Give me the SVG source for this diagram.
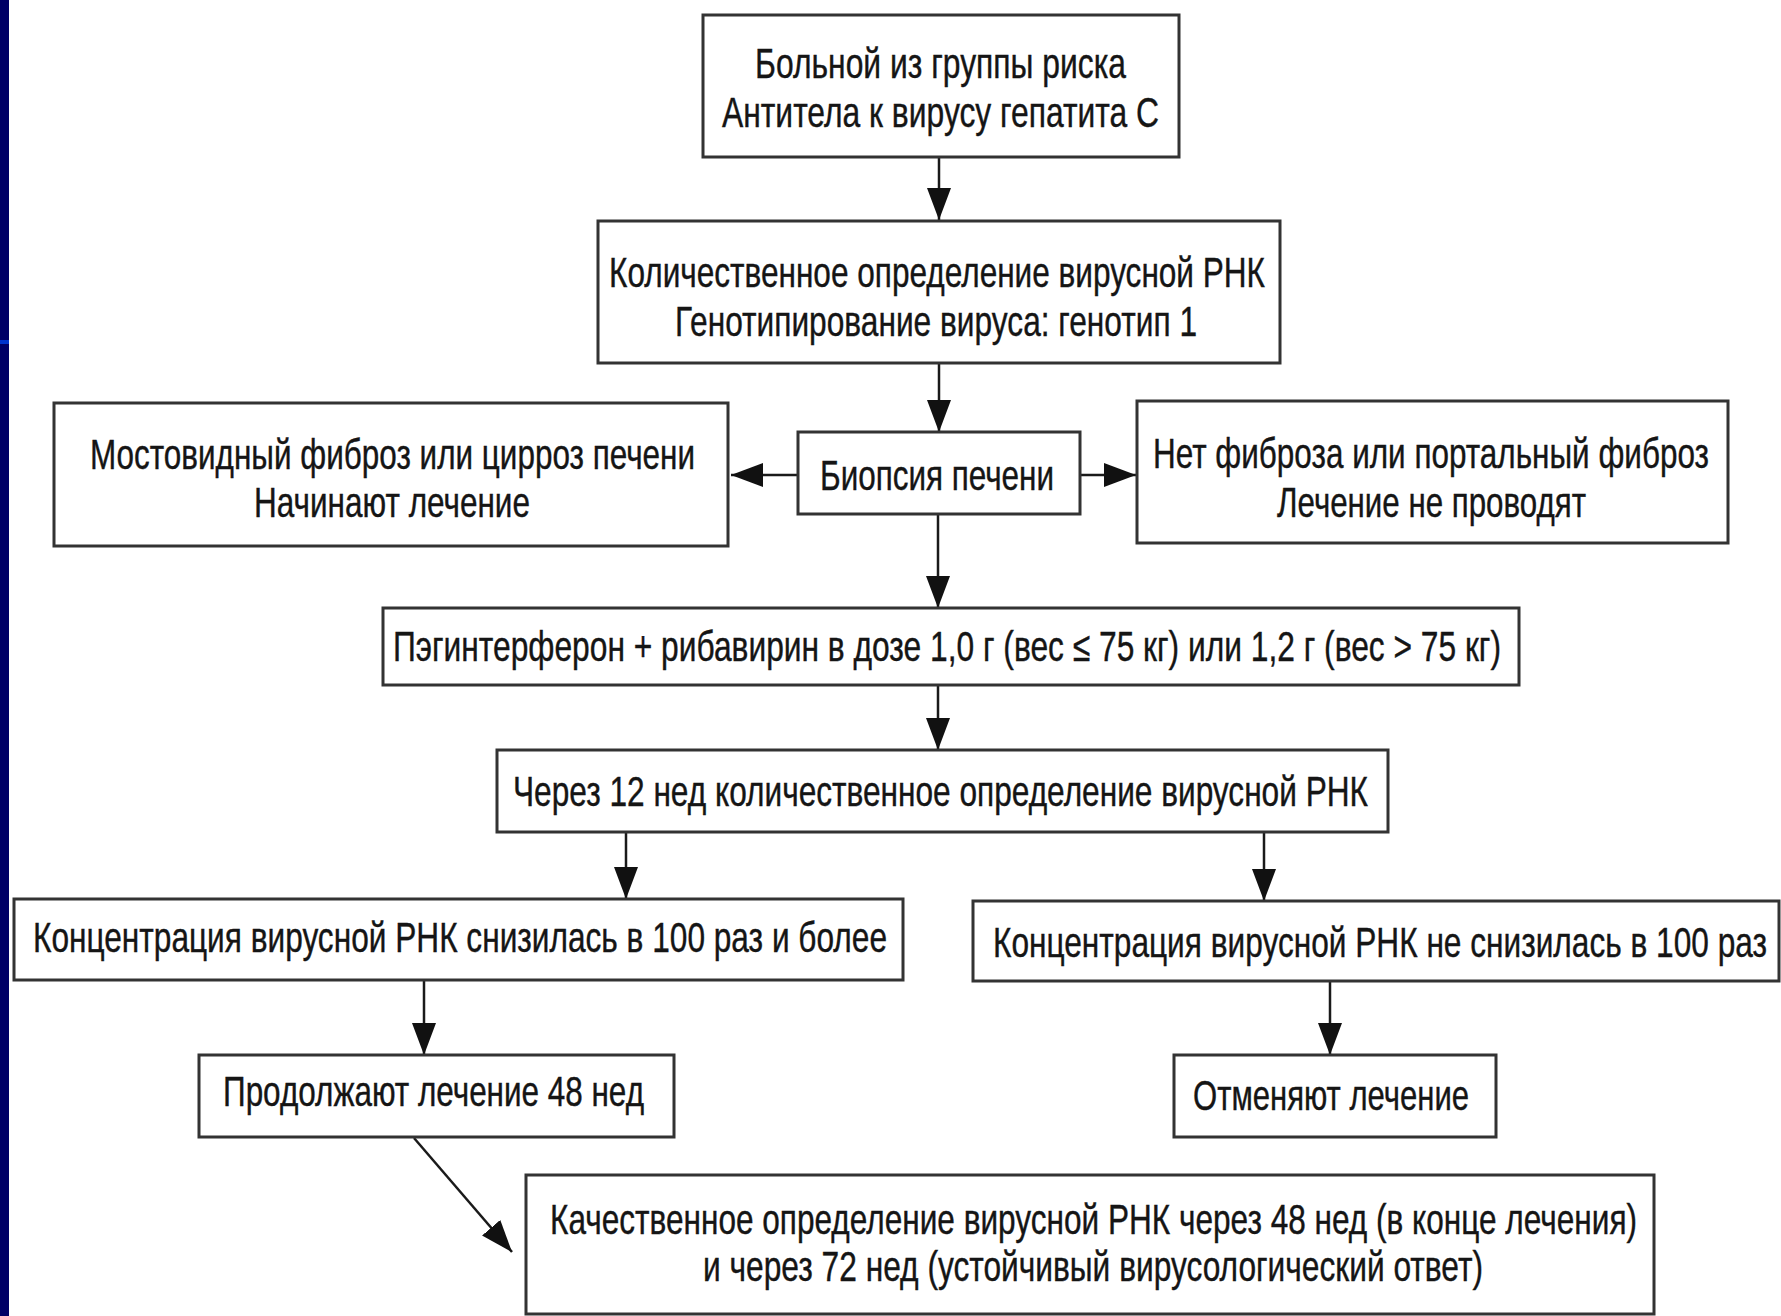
<svg xmlns="http://www.w3.org/2000/svg" width="1781" height="1316" viewBox="0 0 1781 1316">
<style>
.box{fill:#ffffff;stroke:#333333;stroke-width:3}
.t{font-family:"Liberation Sans","Arial",sans-serif;font-size:42px;fill:#151515;stroke:#151515;stroke-width:0.4;text-anchor:middle}
.c{stroke:#1a1a1a;stroke-width:2.5;fill:none}
</style>
<defs>
<marker id="ah" markerUnits="userSpaceOnUse" markerWidth="34" markerHeight="26" refX="32" refY="12" orient="auto">
<path d="M0,0 L32,12 L0,24 z" fill="#111111"/>
</marker>
</defs>
<rect x="0" y="0" width="1781" height="1316" fill="#ffffff"/>
<rect x="0" y="0" width="9" height="1316" fill="#000066"/>
<rect x="0" y="340" width="9" height="4" fill="#0033cc"/>

<g id="connectors">
<line class="c" x1="939" y1="157" x2="939" y2="220" marker-end="url(#ah)"/>
<line class="c" x1="939" y1="363" x2="939" y2="432" marker-end="url(#ah)"/>
<line class="c" x1="798" y1="475" x2="731" y2="475" marker-end="url(#ah)"/>
<line class="c" x1="1080" y1="475" x2="1136" y2="475" marker-end="url(#ah)"/>
<line class="c" x1="938" y1="514" x2="938" y2="608" marker-end="url(#ah)"/>
<line class="c" x1="938" y1="685" x2="938" y2="750" marker-end="url(#ah)"/>
<line class="c" x1="626" y1="832" x2="626" y2="899" marker-end="url(#ah)"/>
<line class="c" x1="1264" y1="832" x2="1264" y2="901" marker-end="url(#ah)"/>
<line class="c" x1="424" y1="980" x2="424" y2="1055" marker-end="url(#ah)"/>
<line class="c" x1="1330" y1="981" x2="1330" y2="1055" marker-end="url(#ah)"/>
<line class="c" x1="414" y1="1138" x2="512" y2="1252" marker-end="url(#ah)"/>
</g>

<g id="n1">
<rect class="box" x="703" y="15" width="476" height="142"/>
<text class="t" transform="translate(940.5,78) scale(0.75,1)" textLength="494.7" lengthAdjust="spacingAndGlyphs">Больной из группы риска</text>
<text class="t" transform="translate(940.5,127) scale(0.75,1)" textLength="582.7" lengthAdjust="spacingAndGlyphs">Антитела к вирусу гепатита С</text>
</g>
<g id="n2">
<rect class="box" x="598" y="221" width="682" height="142"/>
<text class="t" transform="translate(937,287) scale(0.75,1)" textLength="874.7" lengthAdjust="spacingAndGlyphs">Количественное определение вирусной РНК</text>
<text class="t" transform="translate(936,336) scale(0.75,1)" textLength="696" lengthAdjust="spacingAndGlyphs">Генотипирование вируса: генотип 1</text>
</g>
<g id="n3">
<rect class="box" x="54" y="403" width="674" height="143"/>
<text class="t" transform="translate(392.5,469) scale(0.75,1)" textLength="806.7" lengthAdjust="spacingAndGlyphs">Мостовидный фиброз или цирроз печени</text>
<text class="t" transform="translate(392,517) scale(0.75,1)" textLength="368" lengthAdjust="spacingAndGlyphs">Начинают лечение</text>
</g>
<g id="n4">
<rect class="box" x="798" y="432" width="282" height="82"/>
<text class="t" transform="translate(937,490) scale(0.75,1)" textLength="312" lengthAdjust="spacingAndGlyphs">Биопсия печени</text>
</g>
<g id="n5">
<rect class="box" x="1137" y="401" width="591" height="142"/>
<text class="t" transform="translate(1431,468) scale(0.75,1)" textLength="741.3" lengthAdjust="spacingAndGlyphs">Нет фиброза или портальный фиброз</text>
<text class="t" transform="translate(1431.5,517) scale(0.75,1)" textLength="412" lengthAdjust="spacingAndGlyphs">Лечение не проводят</text>
</g>
<g id="n6">
<rect class="box" x="383" y="608" width="1136" height="77"/>
<text class="t" transform="translate(947,661) scale(0.75,1)" textLength="1477.3" lengthAdjust="spacingAndGlyphs">Пэгинтерферон + рибавирин в дозе 1,0 г (вес ≤ 75 кг) или 1,2 г (вес &gt; 75 кг)</text>
</g>
<g id="n7">
<rect class="box" x="497" y="750" width="891" height="82"/>
<text class="t" transform="translate(940.5,806) scale(0.75,1)" textLength="1140" lengthAdjust="spacingAndGlyphs">Через 12 нед количественное определение вирусной РНК</text>
</g>
<g id="n8">
<rect class="box" x="14" y="899" width="889" height="81"/>
<text class="t" transform="translate(460,952) scale(0.75,1)" textLength="1138.7" lengthAdjust="spacingAndGlyphs">Концентрация вирусной РНК снизилась в 100 раз и более</text>
</g>
<g id="n9">
<rect class="box" x="973" y="901" width="806" height="80"/>
<text class="t" transform="translate(1380,957) scale(0.75,1)" textLength="1032" lengthAdjust="spacingAndGlyphs">Концентрация вирусной РНК не снизилась в 100 раз</text>
</g>
<g id="n10">
<rect class="box" x="199" y="1055" width="475" height="82"/>
<text class="t" transform="translate(433.5,1106) scale(0.75,1)" textLength="561.3" lengthAdjust="spacingAndGlyphs">Продолжают лечение 48 нед</text>
</g>
<g id="n11">
<rect class="box" x="1174" y="1055" width="322" height="82"/>
<text class="t" transform="translate(1331,1110) scale(0.75,1)" textLength="368" lengthAdjust="spacingAndGlyphs">Отменяют лечение</text>
</g>
<g id="n12">
<rect class="box" x="526" y="1175" width="1128" height="139"/>
<text class="t" transform="translate(1093.5,1234) scale(0.75,1)" textLength="1449.3" lengthAdjust="spacingAndGlyphs">Качественное определение вирусной РНК через 48 нед (в конце лечения)</text>
<text class="t" transform="translate(1093,1281) scale(0.75,1)" textLength="1040" lengthAdjust="spacingAndGlyphs">и через 72 нед (устойчивый вирусологический ответ)</text>
</g>
</svg>
